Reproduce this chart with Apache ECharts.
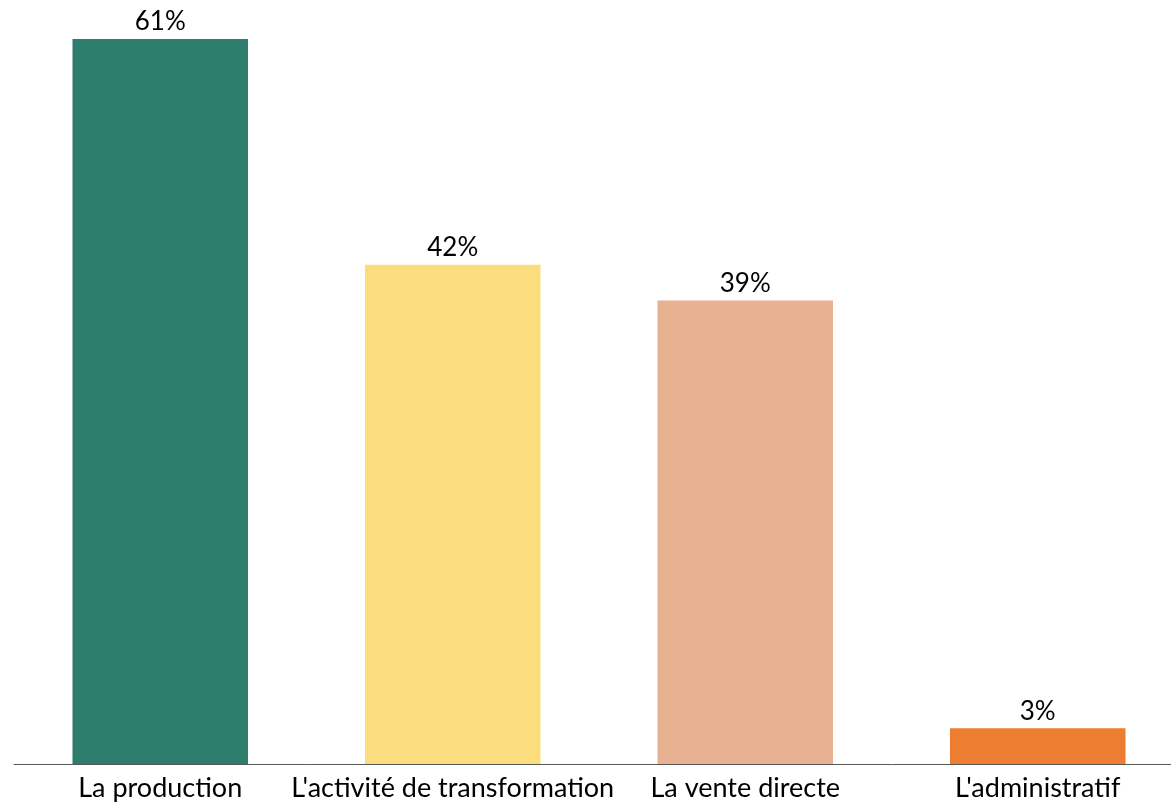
<!DOCTYPE html>
<html>
<head>
<meta charset="utf-8">
<script src="https://cdn.jsdelivr.net/npm/echarts@6/dist/echarts.min.js"></script>
<style>
  html, body { margin: 0; padding: 0; background: #ffffff; overflow: hidden; }
  /* the plot runs a little past the right edge of the view */
  #chart { width: 1184px; height: 805px; }
</style>
</head>
<body>
<div id="chart"></div>
<script>
// Activities (share of respondents, %)
const categories = ['La production', "L'activité de transformation", 'La vente directe', "L'administratif"];
const values = [61, 42, 39, 3];
const barColors = ['#2D7D6C', '#FBDD7E', '#E8B192', '#ED7D31'];

const FONT = 'Lato';

const chart = echarts.init(document.getElementById('chart'));
chart.setOption({
  animation: false,
  backgroundColor: '#ffffff',
  grid: { left: 14, top: 39, bottom: 41, right: 0, containLabel: false },
  xAxis: {
    type: 'category',
    data: categories,
    axisTick: { show: false },
    axisLine: { lineStyle: { color: '#595959', width: 1 } },
    axisLabel: {
      color: '#000000',
      fontFamily: FONT,
      fontSize: 27,
      margin: 11,
      interval: 0
    }
  },
  yAxis: {
    type: 'value',
    min: 0,
    max: 61,
    show: false,
    splitLine: { show: false }
  },
  series: [{
    type: 'bar',
    barWidth: '60%',
    data: values.map((v, i) => ({ value: v, itemStyle: { color: barColors[i] } })),
    label: {
      show: true,
      position: 'top',
      distance: 4,
      color: '#000000',
      fontFamily: FONT,
      fontSize: 26,
      formatter: p => p.value + '%'
    }
  }]
});
</script>
</body>
</html>
